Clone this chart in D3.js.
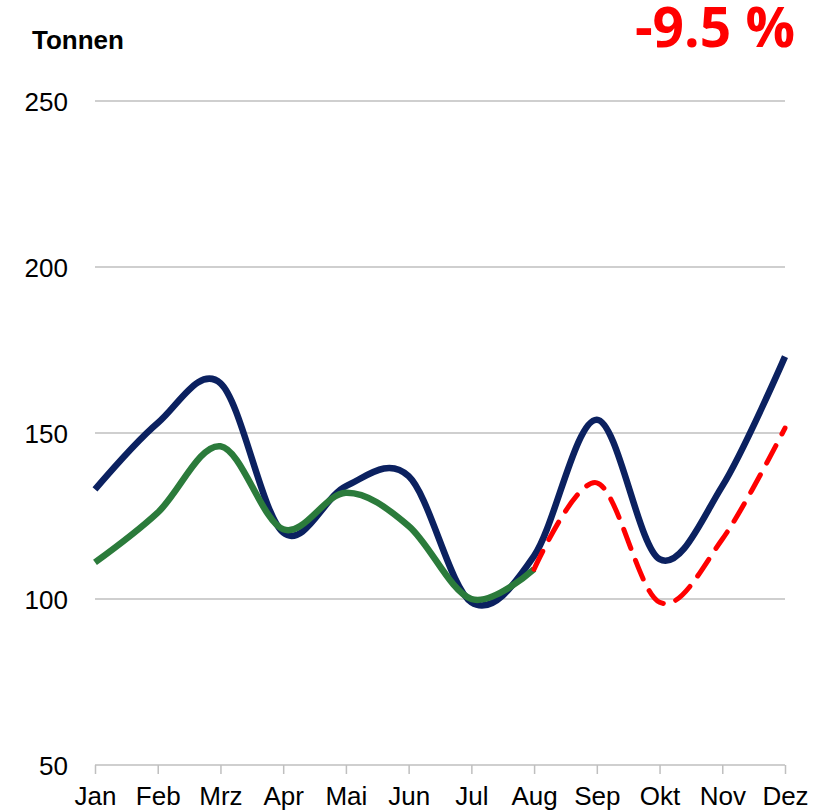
<!DOCTYPE html>
<html>
<head>
<meta charset="utf-8">
<script src="https://cdn.jsdelivr.net/npm/d3@7/dist/d3.min.js"></script>
<style>
  body { margin: 0; background: #fff; }
  text { font-family: "Liberation Sans", Arial, sans-serif; }
</style>
</head>
<body>
<svg id="chart" width="836" height="812"></svg>
<script>
var months   = ['Jan', 'Feb', 'Mrz', 'Apr', 'Mai', 'Jun', 'Jul', 'Aug', 'Sep', 'Okt', 'Nov', 'Dez'];
var lastYear = [133, 153, 165, 120, 134, 137, 99, 113, 154, 112, 134, 173];
var thisYear = [111, 126, 146, 121, 132, 122, 100, 109];
var forecast = [null, null, null, null, null, null, null, 109, 135, 99, 118, 151.5];
var yTicks   = [50, 100, 150, 200, 250];
var change   = '-9.5 %';
var unit     = 'Tonnen';

var svg = d3.select('#chart');

var x = d3.scalePoint().domain(months).range([95, 785]);
var y = d3.scaleLinear().domain([50, 250]).range([765, 101]);

// gridlines
svg.append('g')
    .selectAll('line')
    .data(yTicks.slice(1))
    .enter().append('line')
    .attr('x1', 95).attr('x2', 785)
    .attr('y1', d => y(d)).attr('y2', d => y(d))
    .attr('stroke', '#bfbfbf').attr('stroke-width', 1.5)
;

// x axis
var xAxis = svg.append('g')
    .attr('transform', `translate(0, ${ y(50) })`)
    .call(d3.axisBottom(x).tickSize(9).tickPadding(12))
;
xAxis.select('.domain').attr('stroke', '#bfbfbf').attr('stroke-width', 1.5).attr('d', 'M95,0H785');
xAxis.selectAll('.tick line').attr('stroke', '#bfbfbf').attr('stroke-width', 1.5);
xAxis.selectAll('.tick text')
    .attr('fill', '#000')
    .attr('dy', null)
    .attr('y', 40)
    .style('font-family', '"Liberation Sans", Arial, sans-serif')
    .style('font-size', '26px')
;

// y labels
svg.append('g')
    .selectAll('text')
    .data(yTicks)
    .enter().append('text')
    .attr('x', 68)
    .attr('y', d => y(d) + 10)
    .attr('text-anchor', 'end')
    .style('font-size', '26px')
    .text(d => d)
;

var line = d3.line()
    .defined(d => d != null)
    .x((d, i) => x(months[i]))
    .y(d => y(d))
    .curve(d3.curveCatmullRom.alpha(0))
;

svg.append('path')
    .datum(lastYear)
    .attr('d', line)
    .attr('fill', 'none')
    .attr('stroke', '#0b2160')
    .attr('stroke-width', 6.5)
    .attr('stroke-linejoin', 'round')
;

svg.append('path')
    .datum(thisYear)
    .attr('d', line)
    .attr('fill', 'none')
    .attr('stroke', '#2b7b3b')
    .attr('stroke-width', 6.5)
    .attr('stroke-linejoin', 'round')
;

svg.append('path')
    .datum(forecast)
    .attr('d', line)
    .attr('fill', 'none')
    .attr('stroke', '#ff0000')
    .attr('stroke-width', 5)
    .attr('stroke-dasharray', '20,13')
    .attr('stroke-linecap', 'round')
;

// titles
svg.append('text')
    .attr('x', 32).attr('y', 49)
    .style('font-size', '26px').style('font-weight', 'bold')
    .text(unit)
;

svg.append('text')
    .attr('x', 795).attr('y', 47)
    .attr('text-anchor', 'end')
    .attr('fill', '#ff0000')
    .style('font-family', '"Open Sans", sans-serif')
    .style('font-size', '55px').style('font-weight', 'bold')
    .text(change)
;
</script>
</body>
</html>
